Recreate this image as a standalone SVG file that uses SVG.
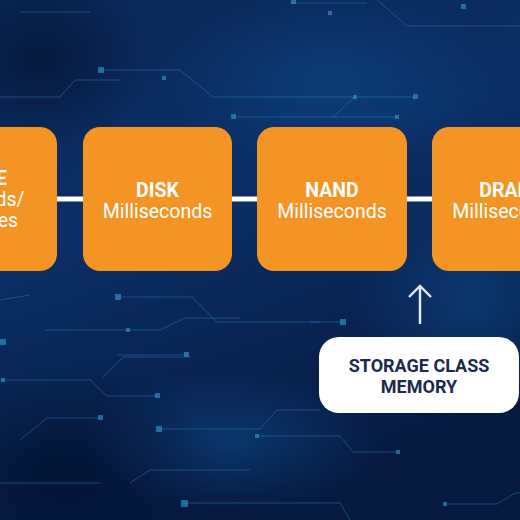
<svg xmlns="http://www.w3.org/2000/svg" width="520" height="520" viewBox="0 0 520 520">
  <defs>
    <linearGradient id="bg" x1="0" y1="0" x2="0.35" y2="1">
      <stop offset="0" stop-color="#0a2756"/>
      <stop offset="0.45" stop-color="#0b2f66"/>
      <stop offset="1" stop-color="#061a40"/>
    </linearGradient>
    <radialGradient id="glow1" cx="0.5" cy="0.5" r="0.5">
      <stop offset="0" stop-color="#0f4a8a" stop-opacity="0.55"/>
      <stop offset="1" stop-color="#0f4a8a" stop-opacity="0"/>
    </radialGradient>
    <radialGradient id="dark" cx="0.5" cy="0.5" r="0.5">
      <stop offset="0" stop-color="#020d26" stop-opacity="0.6"/>
      <stop offset="1" stop-color="#020d26" stop-opacity="0"/>
    </radialGradient>
    <marker id="ah" viewBox="0 0 14 24" refX="12" refY="12" markerWidth="14" markerHeight="24" markerUnits="userSpaceOnUse" orient="auto">
      <path d="M1,1 L12,12 L1,23" fill="none" stroke="#e6ecf5" stroke-width="2.4"/>
    </marker>
    <style>
      .box{fill:#f39425}
      .t1{font-family:Roboto,"Liberation Sans",sans-serif;font-weight:700;font-size:19.5px;fill:#ffffff;text-anchor:middle}
      .t2{font-family:Roboto,"Liberation Sans",sans-serif;font-weight:400;font-size:19.5px;fill:#ffffff;text-anchor:middle}
      .scm{font-family:Roboto,"Liberation Sans",sans-serif;font-weight:700;font-size:18px;fill:#1c2a4c;text-anchor:middle}
      .tr{fill:none;stroke:#2a86c4;stroke-width:1;opacity:0.45}
      .dot{fill:#2f9fd6;opacity:0.6}
      .conn{stroke:#ffffff;stroke-width:5}
    </style>
  </defs>

  <!-- background -->
  <rect width="520" height="520" fill="url(#bg)"/>
  <ellipse cx="330" cy="80" rx="170" ry="90" fill="url(#glow1)"/>
  <ellipse cx="470" cy="300" rx="120" ry="120" fill="url(#glow1)"/>
  <ellipse cx="230" cy="440" rx="150" ry="70" fill="url(#glow1)"/>
  <ellipse cx="60" cy="470" rx="160" ry="110" fill="url(#dark)"/>
  <ellipse cx="40" cy="60" rx="110" ry="90" fill="url(#dark)"/>

  <!-- circuit traces -->
  <g id="traces">
    <path class="tr" d="M377,0 L407,26 L520,26"/>
    <path class="tr" d="M290,3 L367,3"/>
    <path class="tr" d="M100,70 L180,70 L213,97 L415,97"/>
    <path class="tr" d="M233,117 L397,117"/>
    <path class="tr" d="M355,97 L333,117"/>
    <path class="tr" d="M0,97 L60,97 L75,80 L120,80"/>
    <path class="tr" d="M20,12 L90,12"/>
    <path class="tr" d="M118,297 L192,297 L217,322 L320,322"/>
    <path class="tr" d="M310,322 L343,322"/>
    <path class="tr" d="M45,330 L160,330 L185,318 L240,318"/>
    <path class="tr" d="M117,355 L187,355"/>
    <path class="tr" d="M0,380 L90,380 L107,396 L157,396"/>
    <path class="tr" d="M103,377 L123,357 L190,357"/>
    <path class="tr" d="M0,300 L30,295"/>
    <path class="tr" d="M47,418 L100,418"/>
    <path class="tr" d="M47,418 L20,440"/>
    <path class="tr" d="M158,429 L260,429 L277,410 L320,410"/>
    <path class="tr" d="M257,436 L340,436 L353,452 L398,452"/>
    <path class="tr" d="M183,503 L340,503 L350,520"/>
    <path class="tr" d="M445,504 L497,504 L515,493 L520,493"/>
    <path class="tr" d="M130,483 L150,470 L250,470"/>
    <path class="tr" d="M0,483 L100,483"/>
    <rect class="dot" x="291" y="0" width="5" height="4"/>
    <rect class="dot" x="328" y="11" width="4" height="4"/>
    <rect class="dot" x="461" y="4" width="5" height="5"/>
    <rect class="dot" x="98" y="67" width="6" height="6"/>
    <rect class="dot" x="162" y="76" width="4" height="4"/>
    <rect class="dot" x="231" y="114" width="5" height="5"/>
    <rect class="dot" x="395" y="115" width="4" height="4"/>
    <rect class="dot" x="413" y="94" width="5" height="5"/>
    <rect class="dot" x="353" y="95" width="4" height="4"/>
    <rect class="dot" x="115" y="294" width="6" height="6"/>
    <rect class="dot" x="340" y="319" width="6" height="6"/>
    <rect class="dot" x="0" y="339" width="6" height="6"/>
    <rect class="dot" x="126" y="328" width="4" height="4"/>
    <rect class="dot" x="184" y="352" width="5" height="5"/>
    <rect class="dot" x="155" y="393" width="5" height="5"/>
    <rect class="dot" x="1" y="378" width="4" height="4"/>
    <rect class="dot" x="98" y="415" width="5" height="5"/>
    <rect class="dot" x="156" y="426" width="6" height="6"/>
    <rect class="dot" x="255" y="434" width="4" height="4"/>
    <rect class="dot" x="396" y="450" width="4" height="4"/>
    <rect class="dot" x="181" y="500" width="7" height="7"/>
    <rect class="dot" x="443" y="502" width="4" height="4"/>
  </g>

  <!-- connectors -->
  <g id="connectors">
    <line class="conn" x1="56" y1="199" x2="85" y2="199"/>
    <line class="conn" x1="231" y1="199" x2="259" y2="199"/>
    <line class="conn" x1="406" y1="199" x2="434" y2="199"/>
    <line x1="420" y1="324" x2="420" y2="286" stroke="#e6ecf5" stroke-width="2.4" marker-end="url(#ah)"/>
  </g>

  <g id="tape">
    <rect class="box" x="-92" y="127" width="149" height="144" rx="17"/>
    <text class="t1" x="-17" y="185">TAPE</text>
    <text class="t2" x="-17" y="206">Seconds/</text>
    <text class="t2" x="-17" y="227">Minutes</text>
  </g>

  <g id="disk">
    <rect class="box" x="83" y="127" width="149" height="144" rx="17"/>
    <text class="t1" x="157.5" y="197">DISK</text>
    <text class="t2" x="157.5" y="218">Milliseconds</text>
  </g>

  <g id="nand">
    <rect class="box" x="257" y="127" width="150" height="144" rx="17"/>
    <text class="t1" x="332" y="197">NAND</text>
    <text class="t2" x="332" y="218">Milliseconds</text>
  </g>

  <g id="dram">
    <rect class="box" x="432" y="127" width="150" height="144" rx="17"/>
    <text class="t1" x="507" y="197">DRAM</text>
    <text class="t2" x="507" y="218">Milliseconds</text>
  </g>

  <g id="scm">
    <rect x="319" y="337" width="200" height="76" rx="20" fill="#ffffff"/>
    <text class="scm" x="419" y="372">STORAGE CLASS</text>
    <text class="scm" x="419" y="393">MEMORY</text>
  </g>
</svg>
